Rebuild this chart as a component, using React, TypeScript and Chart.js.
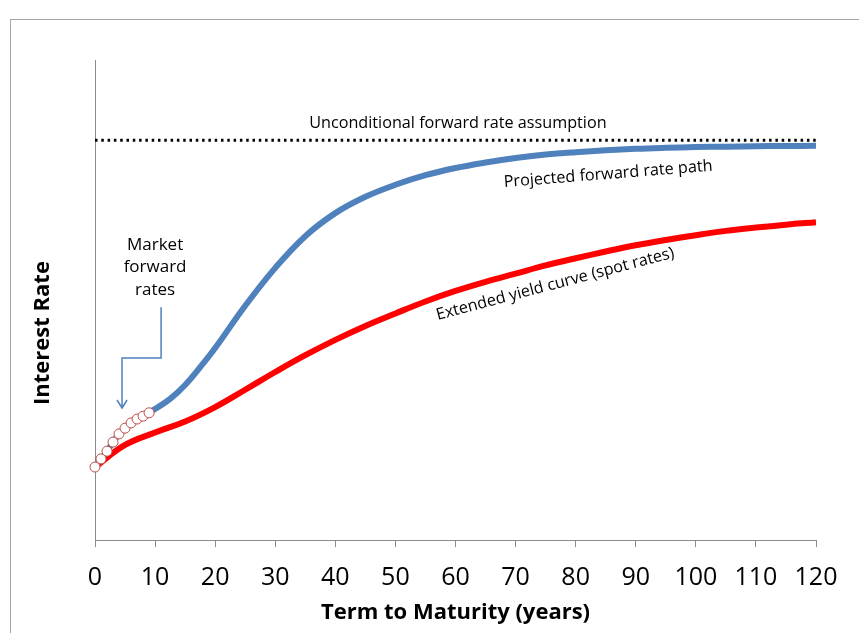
import React, { useEffect, useRef } from "react";
import { Chart, registerables } from "chart.js";

Chart.register(...registerables);

// ---- data ----
const marketYears = [0, 1, 2, 3, 4, 5, 6, 7, 8, 9];
const marketRates = [1.52, 1.69, 1.85, 2.04, 2.21, 2.33, 2.44, 2.52, 2.58, 2.65];

const projYears = [10, 12.5, 15, 17.5, 20, 25, 30, 35, 40, 45, 50, 55, 60, 65, 70, 75, 80, 85, 90, 95, 100, 105, 110, 115, 120];
const projRates = [2.73, 2.94, 3.23, 3.6, 4.0, 4.88, 5.67, 6.33, 6.81, 7.15, 7.4, 7.6, 7.75, 7.865, 7.96, 8.03, 8.08, 8.12, 8.15, 8.17, 8.185, 8.195, 8.203, 8.208, 8.211];

const spotYears = [0, 5, 10, 15, 20, 25, 30, 35, 40, 45, 50, 55, 60, 65, 70, 75, 80, 85, 90, 95, 100, 105, 110, 115, 120];
const spotRates = [1.52, 1.98, 2.24, 2.47, 2.77, 3.13, 3.5, 3.85, 4.17, 4.46, 4.72, 4.97, 5.19, 5.38, 5.55, 5.72, 5.87, 6.01, 6.14, 6.25, 6.35, 6.44, 6.51, 6.57, 6.62];

const assumptionYears = [0, 120];
const assumptionRate = 8.33;

const xTickValues = [0, 10, 20, 30, 40, 50, 60, 70, 80, 90, 100, 110, 120];

const labelUnconditional = "Unconditional forward rate assumption";
const labelProjected = "Projected forward rate path";
const labelSpot = "Extended yield curve (spot rates)";
const labelMarket = ["Market", "forward", "rates"];
const xTitle = "Term to Maturity (years)";
const yTitle = "Interest Rate";

const W = 859;
const H = 633;
const ANN_FONT = "'Open Sans', sans-serif";

const annotationPlugin = {
  id: "annotations",
  beforeDraw(chart: any) {
    const ctx = chart.ctx;
    ctx.save();
    ctx.fillStyle = "#ffffff";
    ctx.fillRect(0, 0, W, H);
    ctx.strokeStyle = "#a6a6a6";
    ctx.lineWidth = 1;
    ctx.strokeRect(10.5, 19.5, W + 20, H + 20);
    ctx.restore();
  },
  afterDatasetsDraw(chart: any) {
    const ctx = chart.ctx;
    const xs = chart.scales.x;
    const ys = chart.scales.y;
    const px = (t: number) => xs.getPixelForValue(t);
    const py = (v: number) => ys.getPixelForValue(v);
    const text = (s: string, t: number, v: number, deg: number, size: number) => {
      ctx.save();
      ctx.translate(px(t), py(v));
      ctx.rotate((deg * Math.PI) / 180);
      ctx.font = `${size}px ${ANN_FONT}`;
      ctx.fillStyle = "#000000";
      ctx.textAlign = "center";
      ctx.textBaseline = "middle";
      ctx.fillText(s, 0, 0);
      ctx.restore();
    };
    text(labelUnconditional, 60.4, 8.68, 0, 16.2);
    text(labelProjected, 85.4, 7.62, -4.5, 16.2);
    text(labelSpot, 76.6, 5.33, -14.8, 16.2);
    const mv = [6.15, 5.69, 5.21];
    labelMarket.forEach((s, i) => text(s, 10, mv[i], 0, 17));

    // y-axis title
    ctx.save();
    ctx.translate(43, 333);
    ctx.rotate(-Math.PI / 2);
    ctx.font = `bold 22px ${ANN_FONT}`;
    ctx.fillStyle = "#000000";
    ctx.textAlign = "center";
    ctx.textBaseline = "middle";
    ctx.fillText(yTitle, 0, 0);
    ctx.restore();

    // connector arrow
    ctx.save();
    ctx.strokeStyle = "#4F81BD";
    ctx.lineWidth = 1.5;
    ctx.beginPath();
    ctx.moveTo(px(11), py(4.85));
    ctx.lineTo(px(11), py(3.79));
    ctx.lineTo(px(4.5), py(3.79));
    ctx.lineTo(px(4.5), py(2.75));
    ctx.stroke();
    const tipX = px(4.5);
    const tipY = py(2.75);
    ctx.beginPath();
    ctx.moveTo(tipX - 5, tipY - 8);
    ctx.lineTo(tipX, tipY);
    ctx.lineTo(tipX + 5, tipY - 8);
    ctx.stroke();
    ctx.restore();
  },
};

export default function App() {
  const ref = useRef<HTMLCanvasElement | null>(null);
  useEffect(() => {
    if (!ref.current) return;
    const chart = new Chart(ref.current, {
      type: "line",
      data: {
        datasets: [
          {
            label: "Market forward rates",
            data: marketYears.map((x, i) => ({ x, y: marketRates[i] })),
            showLine: false,
            clip: false,
            pointRadius: 5,
            pointBorderWidth: 1,
            pointBackgroundColor: "#ffffff",
            pointBorderColor: "#C0504D",
            borderColor: "#C0504D",
          },
          {
            label: "Projected forward rate path",
            data: [
              ...marketYears.map((x, i) => ({ x, y: marketRates[i] })),
              ...projYears.map((x, i) => ({ x, y: projRates[i] })),
            ],
            borderColor: "#4F81BD",
            borderWidth: 6,
            pointRadius: 0,
            tension: 0.4,
          },
          {
            label: "Extended yield curve (spot rates)",
            data: spotYears.map((x, i) => ({ x, y: spotRates[i] })),
            borderColor: "#FF0000",
            borderWidth: 6,
            pointRadius: 0,
            tension: 0.4,
          },
          {
            label: "Unconditional forward rate assumption",
            data: assumptionYears.map((x) => ({ x, y: assumptionRate })),
            borderColor: "#000000",
            borderWidth: 3,
            borderDash: [2.5, 3.8],
            pointRadius: 0,
          },
        ],
      },
      options: {
        responsive: false,
        animation: false,
        events: [],
        layout: { padding: { top: 60, right: 43, left: 0, bottom: 0 } },
        plugins: { legend: { display: false }, tooltip: { enabled: false } },
        scales: {
          x: {
            type: "linear",
            min: 0,
            max: 120,
            afterFit: (s: any) => {
              s.height = 93;
            },
            afterBuildTicks: (s: any) => {
              s.ticks = xTickValues.map((v) => ({ value: v }));
            },
            ticks: {
              color: "#000000",
              font: { family: "'Open Sans', sans-serif", size: 25 },
              padding: 16,
              maxRotation: 0,
              autoSkip: false,
            },
            grid: { display: true, drawOnChartArea: false, drawTicks: true, tickLength: 7, color: "#8c8c8c" },
            border: { display: true, color: "#8c8c8c", width: 1 },
            title: {
              display: true,
              text: xTitle,
              color: "#000000",
              font: { family: "'Open Sans', sans-serif", size: 22, weight: "bold" },
              padding: { top: 0, bottom: 7 },
            },
          },
          y: {
            type: "linear",
            min: 0,
            max: 10,
            afterFit: (s: any) => {
              s.width = 95;
            },
            ticks: { display: false },
            grid: { display: false },
            border: { display: true, color: "#8c8c8c", width: 1 },
            title: { display: false },
          },
        },
      },
      plugins: [annotationPlugin],
    } as any);
    return () => chart.destroy();
  }, []);
  return (
    <div style={{ position: "absolute", left: 0, top: 0, width: W, height: H }}>
      <canvas ref={ref} width={W} height={H} style={{ display: "block" }} />
    </div>
  );
}
